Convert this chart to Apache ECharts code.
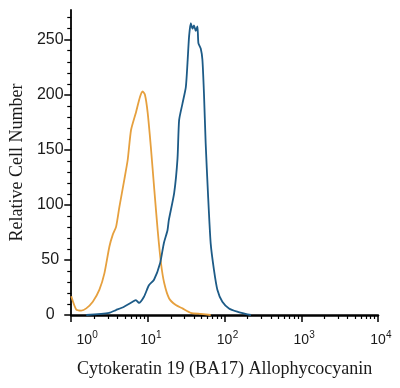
<!DOCTYPE html>
<html>
<head>
<meta charset="utf-8">
<script src="https://cdn.jsdelivr.net/npm/echarts@6/dist/echarts.min.js"></script>
<style>html,body{margin:0;padding:0;background:#fff}#c{width:400px;height:388px}</style>
</head>
<body>
<div id="c"></div>
<script>
// Isotype control (orange)
var orangeX = [1.0, 1.16, 1.35, 1.57, 1.91, 2.33, 2.71, 3.14, 3.48, 3.84, 4.24, 4.92, 5.45, 6.02, 6.98, 7.87, 8.53, 9.14, 9.91, 10.9, 12.1, 13.4, 14.8, 16.3, 18.9, 23.1, 28.2, 36.2, 48.8, 65.8];
var orangeY = [17, 5, 4, 6, 12, 23, 38, 62, 73, 80, 98, 123, 141, 168, 184, 198, 203, 200, 184, 153, 114, 77, 47, 29, 15, 9, 6, 2, 1, 0];
// Cytokeratin 19 stained (blue)
var blueX = [1.57, 3.12, 3.84, 4.88, 6.33, 6.98, 7.64, 8.88, 10.3, 12.0, 14.4, 16.1, 18.0, 18.7, 22.0, 24.3, 25.5, 28.2, 31.2, 32.8, 34.4, 36.2, 38.1, 39.9, 42.0, 44.2, 45.5, 48.8, 51.3, 53.8, 56.6, 60.6, 65.8, 72.6, 80.4, 93.4, 114, 146, 187, 220];
var blueY = [0, 2, 4.5, 7.5, 12, 13.6, 11, 16.6, 27, 32, 47, 65, 77, 86, 111, 142, 177, 192, 207, 229, 253, 265, 260, 263, 258, 262, 247, 242, 232, 201, 156, 111, 65, 41, 23, 12, 6, 3, 1, 0];
// Axis ticks
var xMajorTicks = [1, 10, 100, 1000, 10000];
var yMajorTicks = [0, 50, 100, 150, 200, 250];
var yMinorTicks = [10, 20, 30, 40, 60, 70, 80, 90, 110, 120, 130, 140, 160, 170, 180, 190, 210, 220, 230, 240, 260, 270];
var xMinorMantissas = [2, 3, 4, 5, 6, 7, 8, 9];

var xMinorTicks = [];
for (var k = 0; k < 4; k++) {
  xMinorMantissas.forEach(function (m) { xMinorTicks.push(k + Math.log10(m)); });
}
function zip(xs, ys) { return xs.map(function (x, i) { return [x, ys[i]]; }); }

var chart = echarts.init(document.getElementById('c'), null, {renderer: 'canvas'});
var sans = 'Liberation Sans, Arial, sans-serif';
var serif = 'Liberation Serif, Times New Roman, serif';
chart.setOption({
  animation: false,
  backgroundColor: '#fff',
  grid: {left: 70, right: 22, top: 10, bottom: 73, containLabel: false},
  xAxis: [{
    type: 'log', logBase: 10, min: 1, max: 10000, position: 'bottom',
    name: 'Cytokeratin 19 (BA17) Allophycocyanin',
    nameLocation: 'middle', nameGap: 45,
    nameTextStyle: {fontFamily: serif, fontSize: 18, color: '#1a1a1a'},
    axisLine: {show: true, lineStyle: {color: '#000', width: 2.5}},
    axisTick: {show: true, inside: false, length: 7, lineStyle: {color: '#000', width: 1.5}, customValues: xMajorTicks},
    axisLabel: {
      show: true, margin: 18, customValues: xMajorTicks,
      formatter: function (v) {
        var e = Math.round(Math.log10(v));
        return (e === 0 ? '{b0|10}' : '{b|10}') + '{s|' + e + '}';
      },
      rich: {
        b: {fontFamily: sans, fontSize: 14, color: '#1a1a1a', lineHeight: 14, padding: [0, 0, 0, 6], verticalAlign: 'bottom'},
        b0: {fontFamily: sans, fontSize: 14, color: '#1a1a1a', lineHeight: 14, padding: [0, 0, 0, 32], verticalAlign: 'bottom'},
        s: {fontFamily: sans, fontSize: 10, color: '#1a1a1a', lineHeight: 10, width: 6, padding: [0, 0, 7, 0], verticalAlign: 'bottom'}
      }
    },
    splitLine: {show: false}
  }, {
    type: 'value', min: 0, max: 4, position: 'bottom',
    axisLine: {show: false},
    axisTick: {show: true, inside: false, length: 4, lineStyle: {color: '#000', width: 1.2}, customValues: xMinorTicks},
    axisLabel: {show: false},
    splitLine: {show: false}
  }],
  yAxis: [{
    type: 'value', min: 0, max: 277, position: 'left',
    name: 'Relative Cell Number',
    nameLocation: 'middle', nameGap: 44, nameRotate: 90,
    nameTextStyle: {fontFamily: serif, fontSize: 18, color: '#1a1a1a'},
    axisLine: {show: true, lineStyle: {color: '#000', width: 1.8}},
    axisTick: {show: true, inside: false, length: 7, lineStyle: {color: '#000', width: 1.5}, customValues: yMajorTicks},
    axisLabel: {show: true, customValues: yMajorTicks, margin: 21, align: 'center', fontFamily: sans, fontSize: 16, color: '#1a1a1a'},
    splitLine: {show: false}
  }, {
    type: 'value', min: 0, max: 277, position: 'left',
    axisLine: {show: false},
    axisTick: {show: true, inside: false, length: 4, lineStyle: {color: '#000', width: 1.2}, customValues: yMinorTicks},
    axisLabel: {show: false},
    splitLine: {show: false}
  }],
  series: [{
    type: 'line', name: 'Isotype', xAxisIndex: 0, yAxisIndex: 0,
    data: zip(orangeX, orangeY), showSymbol: false, smooth: 0.2,
    lineStyle: {color: '#E6A03E', width: 1.8}, z: 3
  }, {
    type: 'line', name: 'CK19', xAxisIndex: 0, yAxisIndex: 0,
    data: zip(blueX, blueY), showSymbol: false, smooth: 0.2,
    lineStyle: {color: '#1D5B87', width: 1.8}, z: 4
  }]
});
</script>
</body>
</html>
